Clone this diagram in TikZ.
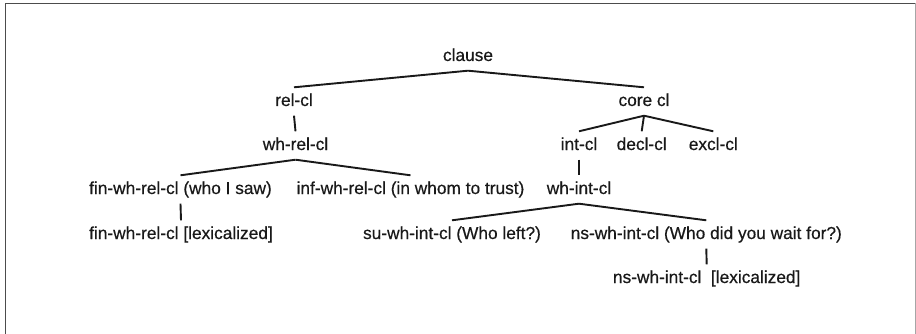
\documentclass[tikz,border=0pt]{standalone}
\usepackage{fontspec}
\setmainfont{Liberation Sans}
\newfontfamily\lblfont[FakeBold=0.5]{Liberation Sans}
\begin{document}
\begin{tikzpicture}[x=1pt,y=-1pt,
  lbl/.style={anchor=base, inner xsep=0pt, inner ysep=0pt, text height=18.5pt, text depth=9.5pt,
    font=\lblfont\fontsize{17.3pt}{20pt}\selectfont, text=black!90},
  edge/.style={line width=1.9pt, draw=black!90}]
\useasboundingbox (0,0) rectangle (916,334);
\draw[line width=1.8pt, black!70] (5.5,334) -- (5.5,3.5) -- (916,3.5);
\draw[line width=1pt, black!35] (915.5,3.5) -- (915.5,334);
\node[lbl] (clause) at (468,61) {clause};
\node[lbl] (rel) at (294,106) {rel-cl};
\node[lbl] (core) at (644,106) {core cl};
\node[lbl] (whrel) at (295.5,150) {wh-rel-cl};
\node[lbl] (int) at (579,150) {int-cl};
\node[lbl] (decl) at (641.7,150) {decl-cl};
\node[lbl] (excl) at (713.3,150) {excl-cl};
\node[lbl] (fin) at (180.5,194) {fin-wh-rel-cl (who I saw)};
\node[lbl] (inf) at (410.5,194) {inf-wh-rel-cl (in whom to trust)};
\node[lbl] (whint) at (579,194) {wh-int-cl};
\node[lbl] (finlex) at (181,239) {fin-wh-rel-cl [lexicalized]};
\node[lbl] (su) at (452,239) {su-wh-int-cl (Who left?)};
\node[lbl] (ns) at (706.3,239) {ns-wh-int-cl (Who did you wait for?)};
\node[lbl] (nslex) at (706.7,283) {ns-wh-int-cl~~[lexicalized]};
\draw[edge] (clause.south) -- (rel.north);
\draw[edge] (clause.south) -- (core.north);
\draw[edge] (rel.south) -- (whrel.north);
\draw[edge] (whrel.south) -- (fin.north);
\draw[edge] (whrel.south) -- (inf.north);
\draw[edge] (fin.south) -- (finlex.north);
\draw[edge] (core.south) -- (int.north);
\draw[edge] (core.south) -- (decl.north);
\draw[edge] (core.south) -- (excl.north);
\draw[edge] (int.south) -- (whint.north);
\draw[edge] (whint.south) -- (su.north);
\draw[edge] (whint.south) -- (ns.north);
\draw[edge] (ns.south) -- (nslex.north);
\end{tikzpicture}
\end{document}
